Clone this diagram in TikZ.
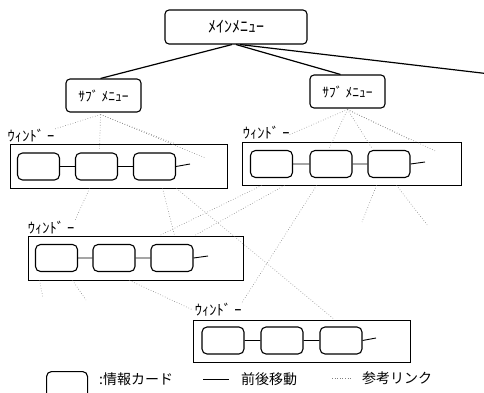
\documentclass[tikz,border=0pt]{standalone}
\usepackage{fontspec}
\newfontfamily\jp{Noto Sans CJK JP}
\usetikzlibrary{calc}
\begin{document}
\begin{tikzpicture}[x=1pt,y=-1pt,
  menubox/.style={draw, rounded corners=4pt, line width=1.1pt, inner sep=0pt},
  win/.style={draw, line width=0.9pt, inner sep=0pt},
  card/.style={draw, rounded corners=5pt, line width=1.1pt, minimum width=42pt, minimum height=27pt, inner sep=0pt},
  nav/.style={line width=0.9pt},
  tree/.style={line width=1.2pt},
  ref/.style={draw=black!50, dotted, line width=0.6pt},
  wlabel/.style={font=\jp\fontsize{14.5}{14.5}\selectfont, anchor=south west, inner sep=0pt},
  legtext/.style={font=\jp\fontsize{14}{14}\selectfont, anchor=west, inner sep=0pt}]
\useasboundingbox (0,0) rectangle (484,393);

% menus
\node[menubox, minimum width=142pt, minimum height=34pt, font=\jp\fontsize{16}{16}\selectfont] (main) at (236,27) {ﾒｲﾝﾒﾆｭｰ};
\node[menubox, minimum width=75pt, minimum height=33pt, font=\jp\fontsize{13.5}{13.5}\selectfont] (sub1) at (103.5,95.5) {ｻﾌﾞ ﾒﾆｭｰ};
\node[menubox, minimum width=75pt, minimum height=33pt, font=\jp\fontsize{13.5}{13.5}\selectfont] (sub2) at (347.5,91.5) {ｻﾌﾞ ﾒﾆｭｰ};
\coordinate (offr) at (490,74);

\draw[tree] ($(main.south)+(-4,0)$) -- ($(sub1.north)+(-3,0)$);
\draw[tree] (main.south) -- ($(sub2.north)+(-7,0)$);
\draw[tree] ($(main.south)+(4,0)$) -- (offr);

% windows
\node[win, minimum width=217pt, minimum height=44pt] (w1) at (118.5,166) {};
\node[win, minimum width=219pt, minimum height=43pt] (w2) at (351.5,163.5) {};
\node[win, minimum width=215pt, minimum height=44pt] (w3) at (135.5,258) {};
\node[win, minimum width=217pt, minimum height=42pt] (w4) at (301.5,341) {};

\node[wlabel] (l1) at ($(w1.north west)+(-2,-1)$) {ｳｨﾝﾄﾞ ｰ};
\node[wlabel] (l2) at ($(w2.north west)+(1,-2)$) {ｳｨﾝﾄﾞ ｰ};
\node[wlabel] (l3) at ($(w3.north west)+(0,-1)$) {ｳｨﾝﾄﾞ ｰ};
\node[wlabel] (l4) at ($(w4.north west)+(2,-3)$) {ｳｨﾝﾄﾞ ｰ};

% cards
\node[card] (a1) at (38.5,166.5) {};
\node[card] (a2) at (96.5,166.5) {};
\node[card] (a3) at (154.5,166.5) {};
\coordinate (a4) at (190,164);
\node[card] (b1) at (271.5,164) {};
\node[card] (b2) at (331,164) {};
\node[card] (b3) at (389,164) {};
\coordinate (b4) at (425,162);
\node[card] (c1) at (56.5,258) {};
\node[card] (c2) at (114,258) {};
\node[card] (c3) at (172,258) {};
\coordinate (c4) at (208,256);
\node[card] (d1) at (223,340.5) {};
\node[card] (d2) at (282,340.5) {};
\node[card] (d3) at (341,340.5) {};
\coordinate (d4) at (376,338);

\draw[nav] (a1.east) -- (a2.west) (a2.east) -- (a3.west) (a3.east) -- (a4);
\draw[nav] (b1.east) -- (b2.west) (b2.east) -- (b3.west) (b3.east) -- (b4);
\draw[nav] (c1.east) -- (c2.west) (c2.east) -- (c3.west) (c3.east) -- (c4);
\draw[nav] (d1.east) -- (d2.west) (d2.east) -- (d3.west) (d3.east) -- (d4);

% reference links: sub menus to windows
\draw[ref] ($(sub1.south)+(-3,2)$) -- (l1.north east);
\draw[ref] ($(sub1.south)+(-3,2)$) -- ($(w1.north west)+(90,6)$);
\draw[ref] ($(sub1.south)+(-3,2)$) -- ($(w1.north west)+(165,0)$);
\draw[ref] ($(sub1.south)+(-3,2)$) -- ($(w1.north west)+(195,14)$);
\draw[ref] ($(sub2.south)+(0,1)$) -- ($(w2.north west)+(48,-7)$);
\draw[ref] ($(sub2.south)+(0,1)$) -- ($(w2.north west)+(88,6)$);
\draw[ref] ($(sub2.south)+(0,1)$) -- ($(w2.north west)+(130,6)$);
\draw[ref] ($(sub2.south)+(0,1)$) -- ($(w2.north west)+(168,-2)$);
\draw[ref] ($(sub2.south)+(0,1)$) -- ($(w2.north west)+(195,10)$);

% reference links between windows
\draw[ref] ($(w1.south west)+(80,0)$) -- (l3.north east);
\draw[ref] ($(w1.south west)+(153,0)$) -- ($(w3.north west)+(147,0)$);
\draw[ref] ($(w1.south west)+(167,0)$) -- ($(w4.north west)+(142,0)$);
\draw[ref] ($(w2.south west)+(20,0)$) -- ($(w3.north west)+(132,0)$);
\draw[ref] ($(w2.south west)+(43,0)$) -- ($(w3.north west)+(167,0)$);
\draw[ref] ($(w2.south west)+(75,0)$) -- (l4.north east);
\draw[ref] ($(w3.south west)+(102,0)$) -- ($(l4.west)+(-2,0)$);
\coordinate (f1) at (362,222);
\coordinate (f2) at (428,226);
\coordinate (f3) at (43,298);
\coordinate (f4) at (86,300);
\draw[ref] ($(w2.south west)+(135,0)$) -- (f1);
\draw[ref] ($(w2.south west)+(155,0)$) -- (f2);
\draw[ref] ($(w3.south west)+(12,0)$) -- (f3);
\draw[ref] ($(w3.south west)+(45,0)$) -- (f4);

% legend
\node[card, anchor=north west, minimum height=30pt, minimum width=41pt] (lc) at (46,371) {};
\node[legtext] (lt1) at (99,379) {:情報カード};
\coordinate (ls1) at (203,379);
\coordinate (ls2) at (229,379);
\draw[nav] (ls1) -- (ls2);
\node[legtext] (lt2) at (241,379) {前後移動};
\coordinate (ld1) at (332,378);
\coordinate (ld2) at (352,378);
\draw[ref] (ld1) -- (ld2);
\node[legtext] (lt3) at (362,378) {参考リンク};
\end{tikzpicture}
\end{document}
